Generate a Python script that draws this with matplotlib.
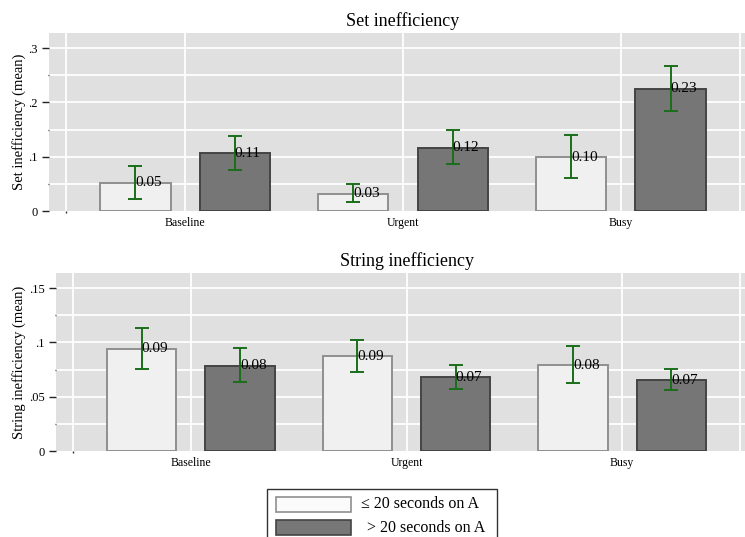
import matplotlib
matplotlib.use("Agg")
import matplotlib.pyplot as plt
from matplotlib.patches import Rectangle

plt.rcParams['font.family'] = ['Liberation Serif', 'DejaVu Serif']

# ---- data -------------------------------------------------------------
conditions = ['Baseline', 'Urgent', 'Busy']
group_labels = ['\u2264 20 seconds on A', '> 20 seconds on A']

set_short = [0.052, 0.032, 0.099]
set_short_lo = [0.022, 0.017, 0.060]
set_short_hi = [0.083, 0.049, 0.140]
set_long = [0.106, 0.117, 0.2253]
set_long_lo = [0.075, 0.086, 0.184]
set_long_hi = [0.138, 0.150, 0.268]

string_short = [0.0942, 0.0872, 0.0792]
string_short_lo = [0.0755, 0.0730, 0.0623]
string_short_hi = [0.1136, 0.1022, 0.0967]
string_long = [0.0786, 0.0681, 0.0651]
string_long_lo = [0.0632, 0.0568, 0.0559]
string_long_hi = [0.0945, 0.0792, 0.0755]

set_ticks = [0, 0.1, 0.2, 0.3]
set_ticklabels = ['0', '.1', '.2', '.3']
string_ticks = [0, 0.05, 0.1, 0.15]
string_ticklabels = ['0', '.05', '.1', '.15']

# ---- style ------------------------------------------------------------
PLOT_BG = '#e0e0e0'
LIGHT_FILL, LIGHT_EDGE = '#f0f0f0', '#8f8f8f'
DARK_FILL, DARK_EDGE = '#767676', '#444444'
CI_COLOR = '#1a6e1a'
BAR_W = 0.322
OFFSET = 0.228

W, H = 745, 537
fig = plt.figure(figsize=(W / 100, H / 100), dpi=100)
fig.patch.set_facecolor('white')


def panel(rect_px, title, ylabel, short, s_lo, s_hi, long_, l_lo, l_hi,
          ylim, ticks, ticklabels, minor_step, ylabel_x):
    x0, y0, x1, y1 = rect_px
    ax = fig.add_axes([x0 / W, 1 - y1 / H, (x1 - x0) / W, (y1 - y0) / H])
    ax.set_facecolor(PLOT_BG)
    for s in ax.spines.values():
        s.set_visible(False)
    ax.set_xlim(-0.625, 2.625)
    ax.set_ylim(*ylim)
    ax.set_axisbelow(True)

    # white grid: horizontal at major+minor steps, vertical at group centres
    y = minor_step
    while y < ylim[1]:
        ax.axhline(y, color='white', lw=1.3, zorder=0)
        y += minor_step
    for gx in [-0.548, 0, 1, 2, 2.548]:
        ax.axvline(gx, color='white', lw=1.3, zorder=0)

    xs = list(range(len(conditions)))
    for vals, lo, hi, off, fc, ec in [
            (short, s_lo, s_hi, -OFFSET, LIGHT_FILL, LIGHT_EDGE),
            (long_, l_lo, l_hi, OFFSET, DARK_FILL, DARK_EDGE)]:
        pos = [x + off for x in xs]
        ax.bar(pos, vals, width=BAR_W, color=fc, edgecolor=ec,
               linewidth=1.4, zorder=2)
        yerr = [[v - l for v, l in zip(vals, lo)],
                [h - v for v, h in zip(vals, hi)]]
        ax.errorbar(pos, vals, yerr=yerr, fmt='none', ecolor=CI_COLOR,
                    elinewidth=1.4, capsize=5, capthick=1.4, zorder=3)
        for p, v in zip(pos, vals):
            ax.text(p, v, f'{v:.2f}', ha='left', va='center',
                    fontsize=11, color='black', zorder=4)

    ax.set_xticks(xs)
    ax.set_xticklabels(conditions, fontsize=8.5)
    ax.tick_params(axis='x', length=0, pad=4)
    ax.set_xticks([-0.548], minor=True)
    ax.tick_params(axis='x', which='minor', length=1.5, width=1,
                   color='#333333')

    ax.set_yticks(ticks)
    ax.set_yticklabels(ticklabels, fontsize=9)
    minors = []
    y = minor_step
    while y < ylim[1]:
        if all(abs(y - t) > 1e-9 for t in ticks):
            minors.append(y)
        y += minor_step
    ax.set_yticks(minors, minor=True)
    ax.tick_params(axis='y', which='major', length=5, width=1,
                   color='#222222', pad=3)
    ax.tick_params(axis='y', which='minor', length=1, width=1,
                   color='#333333')

    ax.set_title(title, fontsize=13, pad=5)
    ax.set_ylabel(ylabel, fontsize=10.5)
    ax.yaxis.set_label_coords((ylabel_x - x0) / (x1 - x0), 0.5)
    return ax


panel((49, 33, 757, 211), 'Set inefficiency', 'Set inefficiency (mean)',
      set_short, set_short_lo, set_short_hi,
      set_long, set_long_lo, set_long_hi,
      (0, 0.328), set_ticks, set_ticklabels, 0.05, 26)

panel((56, 273, 757, 451), 'String inefficiency',
      'String inefficiency (mean)',
      string_short, string_short_lo, string_short_hi,
      string_long, string_long_lo, string_long_hi,
      (0, 0.164), string_ticks, string_ticklabels, 0.025, 26)

# ---- legend box ----------------------------------------------------------
def fx(px):
    return px / W


def fy(py):
    return 1 - py / H


fig.add_artist(Rectangle((fx(267), fy(545)), fx(497) - fx(267),
                         fy(489) - fy(545), transform=fig.transFigure,
                         facecolor='white', edgecolor='#333333', lw=1.0))
keys = [(LIGHT_FILL, LIGHT_EDGE, 497, 512, 361),
        ('#777777', DARK_EDGE, 520, 535, 367)]
for (fc, ec, top, bot, tx), label in zip(keys, group_labels):
    fc_use = '#fbfbfb' if fc == LIGHT_FILL else fc
    fig.add_artist(Rectangle((fx(276), fy(bot)), fx(351) - fx(276),
                             fy(top) - fy(bot), transform=fig.transFigure,
                             facecolor=fc_use, edgecolor=ec, lw=1.2))
    fig.text(fx(tx), fy((top + bot) / 2), label, ha='left', va='center',
             fontsize=11.5)

fig.savefig('out.png', dpi=100)
